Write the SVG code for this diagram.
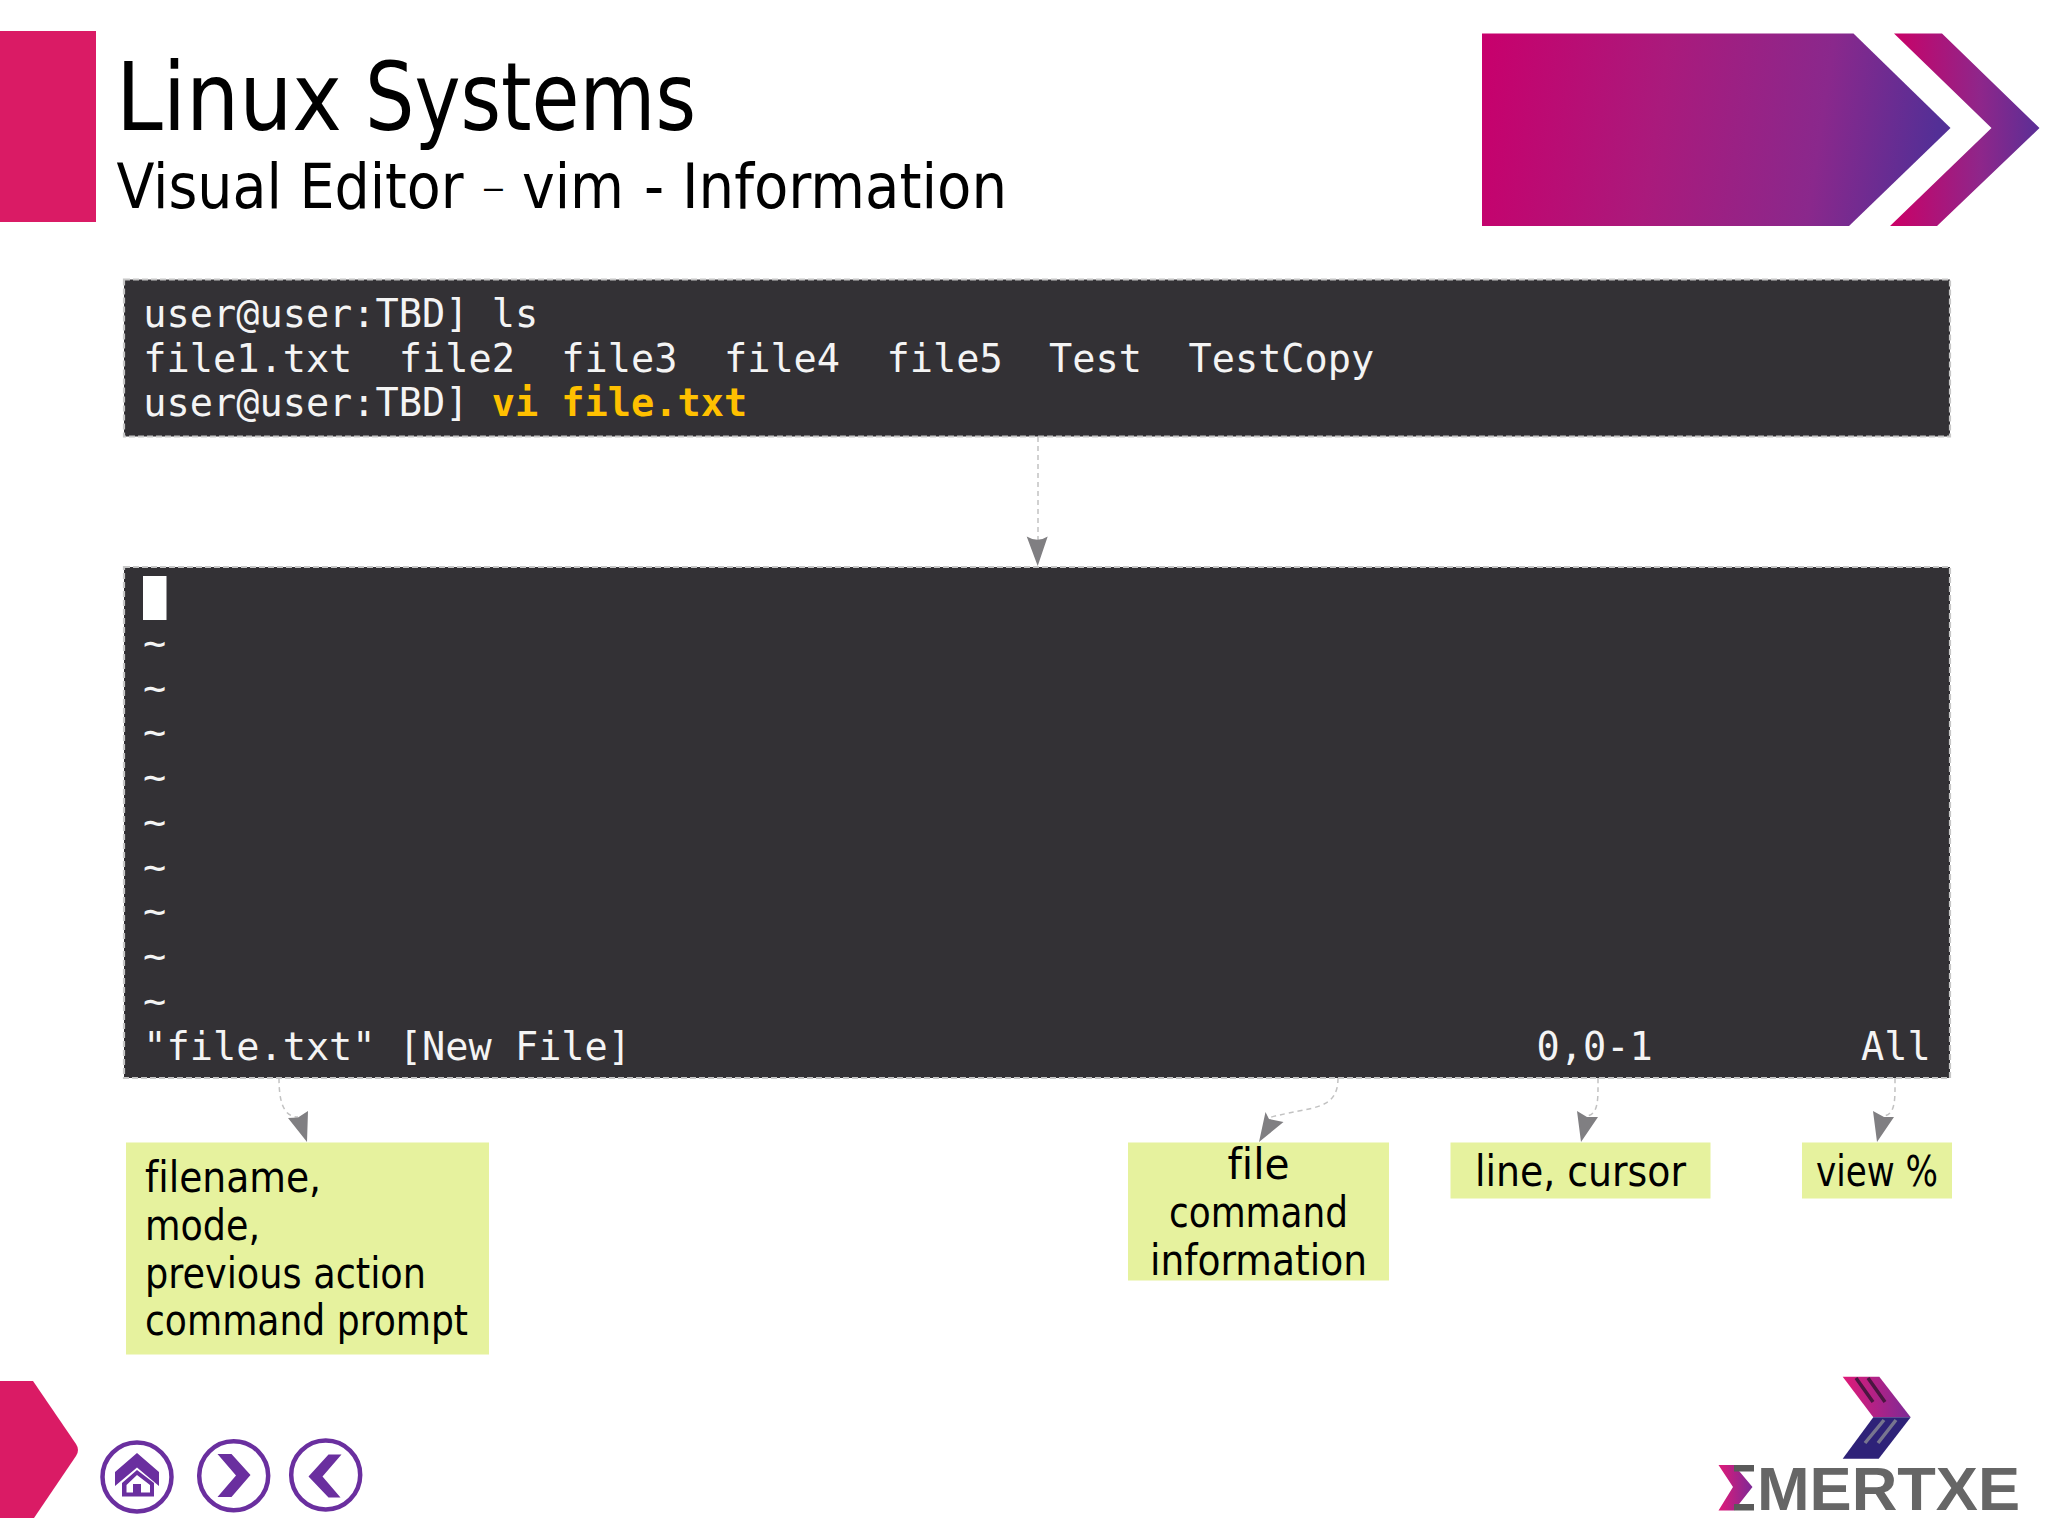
<svg xmlns="http://www.w3.org/2000/svg" width="2048" height="1536" viewBox="0 0 2048 1536">
<style>
.term{fill:#333135;stroke:#c6c6c6;stroke-width:2.200;stroke-dasharray:6 3}
.mono{font-family:"DejaVu Sans Mono","Liberation Mono",monospace;font-size:38.580px;fill:#f4f4f4;white-space:pre}
.hl{fill:#ffc000;font-weight:bold}
.note{fill:#e6f29e}
.lbl{font-family:"DejaVu Sans Condensed","DejaVu Sans",sans-serif;font-size:42px;fill:#000;font-variant-ligatures:none}
.mid{text-anchor:middle}
.ttl{font-family:"DejaVu Sans Condensed","DejaVu Sans",sans-serif;fill:#000;font-variant-ligatures:none}
.conn{fill:none;stroke:#c2c2c2;stroke-width:1.500;stroke-dasharray:5 4}
.head{fill:#807f82}
.ring{fill:#fff;stroke:#6a2f9f;stroke-width:4.500}
.ico{fill:#6a2f9f}
</style>
<defs>
<linearGradient id="gMain" x1="0" y1="0" x2="1" y2="0.060"><stop offset="0" stop-color="#c8006c"/><stop offset="0.4" stop-color="#aa1a7c"/><stop offset="0.75" stop-color="#8a288c"/><stop offset="1" stop-color="#532f96"/></linearGradient>
<linearGradient id="gChev" x1="0" y1="0" x2="1" y2="0"><stop offset="0" stop-color="#cc0066"/><stop offset="0.6" stop-color="#8f268a"/><stop offset="1" stop-color="#5a2f96"/></linearGradient>
<linearGradient id="gLogo" x1="0" y1="0" x2="1" y2="0"><stop offset="0" stop-color="#e01a78"/><stop offset="1" stop-color="#7d2a96"/></linearGradient>
</defs>
<rect width="2048" height="1536" fill="#fff"/>

<g id="header">
<rect x="0" y="31" width="96" height="191" fill="#da1b65"/>
<text class="ttl" y="130" font-size="94"><tspan x="116" textLength="226" lengthAdjust="spacingAndGlyphs">Linux</tspan> <tspan x="365" textLength="331" lengthAdjust="spacingAndGlyphs">Systems</tspan></text>
<text class="ttl" y="207.500" font-size="62"><tspan x="116.500" textLength="347" lengthAdjust="spacingAndGlyphs">Visual Editor</tspan> <tspan x="484" y="198" font-size="34" font-family="Liberation Sans, sans-serif">–</tspan> <tspan x="522" y="207.500" textLength="102" lengthAdjust="spacingAndGlyphs">vim</tspan> <tspan x="644">-</tspan> <tspan x="682" textLength="325" lengthAdjust="spacingAndGlyphs">Information</tspan></text>
<polygon points="1482,33.500 1853.500,33.500 1950.500,128 1849,226 1482,226" fill="url(#gMain)"/>
<polygon points="1894,33.500 1942,33.500 2039.500,128 1937,226 1890,226 1991.500,128" fill="url(#gChev)"/>
</g>

<g id="connectors">
<path class="conn" d="M1038 437V540"/>
<path class="head" d="M1037.700 566L1026.700 536.500Q1037.700 543 1047.700 536.500Z"/>
<path class="conn" d="M279 1078C279 1098 282 1117 298 1117"/>
<polygon class="head" points="307,1142 288,1118 298,1117.500 308,1111"/>
<path class="conn" d="M1338 1078C1338 1112 1310 1106 1268 1118"/>
<polygon class="head" points="1259,1142 1265.500,1112 1269,1119 1283.500,1122"/>
<path class="conn" d="M1598 1078C1598 1098 1599 1114 1587 1116"/>
<polygon class="head" points="1581,1142 1577,1111 1587,1117 1598,1117"/>
<path class="conn" d="M1895 1078C1895 1098 1896 1114 1884 1116"/>
<polygon class="head" points="1877,1142 1873,1111 1884,1117 1894,1117"/>
</g>

<g id="terminal-shell">
<rect class="term" x="124" y="279.500" width="1826" height="157"/>
<text class="mono" x="143.300" y="327">user@user:TBD] ls</text>
<text class="mono" x="143.300" y="372">file1.txt  file2  file3  file4  file5  Test  TestCopy</text>
<text class="mono" x="143.300" y="416">user@user:TBD] <tspan class="hl">vi file.txt</tspan></text>
</g>

<g id="terminal-vim">
<rect class="term" x="124" y="567" width="1826" height="511"/>
<rect x="143" y="576" width="23.500" height="44" fill="#fff"/>
<text class="mono" x="143" y="656">~</text>
<text class="mono" x="143" y="700.700">~</text>
<text class="mono" x="143" y="745.400">~</text>
<text class="mono" x="143" y="790.100">~</text>
<text class="mono" x="143" y="834.800">~</text>
<text class="mono" x="143" y="879.500">~</text>
<text class="mono" x="143" y="924.200">~</text>
<text class="mono" x="143" y="968.900">~</text>
<text class="mono" x="143" y="1013.600">~</text>
<text class="mono" x="143.300" y="1060.300">"file.txt" [New File]</text>
<text class="mono" x="1536.500" y="1060.300">0,0-1</text>
<text class="mono" x="1861" y="1060.300">All</text>
</g>

<g id="note-filename">
<rect class="note" x="126" y="1142.500" width="363" height="212"/>
<text class="lbl" x="145" y="1192" textLength="176" lengthAdjust="spacingAndGlyphs">filename,</text>
<text class="lbl" x="145" y="1240" textLength="115" lengthAdjust="spacingAndGlyphs">mode,</text>
<text class="lbl" x="145" y="1288" textLength="281" lengthAdjust="spacingAndGlyphs">previous action</text>
<text class="lbl" x="145" y="1335" textLength="323" lengthAdjust="spacingAndGlyphs">command prompt</text>
</g>
<g id="note-file">
<rect class="note" x="1128" y="1142.500" width="261" height="138"/>
<text class="lbl mid" x="1258.500" y="1178.500" textLength="62" lengthAdjust="spacingAndGlyphs">file</text>
<text class="lbl mid" x="1258.500" y="1227" textLength="179" lengthAdjust="spacingAndGlyphs">command</text>
<text class="lbl mid" x="1258.500" y="1274.500" textLength="217" lengthAdjust="spacingAndGlyphs">information</text>
</g>
<g id="note-line">
<rect class="note" x="1450.500" y="1142.500" width="260" height="56"/>
<text class="lbl mid" x="1580.500" y="1185.500" textLength="211" lengthAdjust="spacingAndGlyphs">line, cursor</text>
</g>
<g id="note-view">
<rect class="note" x="1802" y="1142.500" width="150" height="56"/>
<text class="lbl mid" x="1877" y="1185.500" textLength="122" lengthAdjust="spacingAndGlyphs">view %</text>
</g>

<g id="nav">
<path d="M0 1381H33L76 1444Q80 1450 76 1456L34 1518H0Z" fill="#da1b65"/>
<g id="nav-home">
<circle class="ring" cx="137" cy="1477" r="34.500"/>
<polygon class="ico" points="115,1472 115,1486 137,1467.500 159,1486 159,1472 137,1453"/>
<path class="ico" fill-rule="evenodd" d="M122 1483L137 1470L154 1483V1496.500H122ZM126.500 1485V1492.500H133V1484H141V1492.500H150V1485L137 1475Z"/>
</g>
<g id="nav-next">
<circle class="ring" cx="233.700" cy="1475.700" r="34.500"/>
<polygon class="ico" points="217.500,1454 231.500,1454 250.500,1475 231.500,1497 217.500,1497 236,1475.500"/>
</g>
<g id="nav-prev">
<circle class="ring" cx="325.700" cy="1475" r="34.500"/>
<polygon class="ico" points="341.500,1454.500 328.500,1454.500 308.500,1476.500 328.500,1497.500 340.500,1497.500 322.500,1476.500"/>
</g>
</g>

<g id="logo">
<polygon points="1842.700,1376.700 1879.300,1376.700 1910.700,1417.300 1873.300,1417.300" fill="url(#gLogo)"/>
<polygon points="1873.300,1417.300 1910.700,1417.300 1878.700,1458.700 1842.700,1458.700" fill="#2e2278"/>
<path d="M1856 1378L1873 1402M1868 1378L1885 1402" stroke="#4a1640" stroke-width="3.500" fill="none"/>
<path d="M1884 1420L1865 1443M1896 1420L1878 1443" stroke="#77758f" stroke-width="3.500" fill="none"/>
<polygon points="1718.500,1465 1734,1465 1752.500,1487 1734,1510.500 1718.500,1510.500 1733,1487" fill="url(#gLogo)"/>
<rect x="1734" y="1465" width="20" height="6.500" fill="#5a5a5a"/>
<rect x="1734" y="1504" width="20" height="6.500" fill="#5a5a5a"/>
<text x="1757" y="1510" font-family="Liberation Sans, sans-serif" font-weight="bold" font-size="61" fill="#666666" textLength="263" lengthAdjust="spacingAndGlyphs">MERTXE</text>
</g>
</svg>
